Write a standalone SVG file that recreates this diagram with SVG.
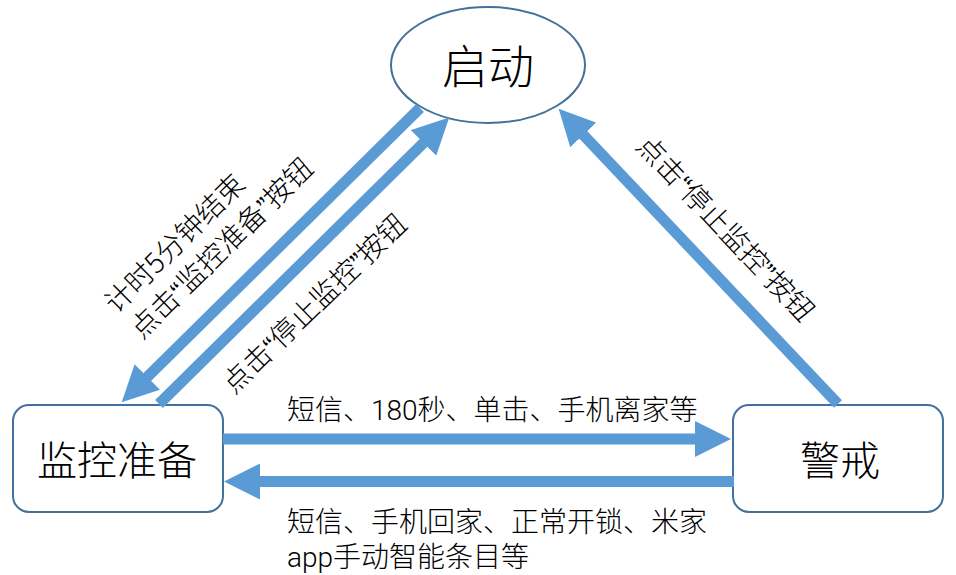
<svg xmlns="http://www.w3.org/2000/svg" width="956" height="575" viewBox="0 0 956 575">
<style>
.node{fill:#ffffff;stroke:#41719C;stroke-width:2}
.conn{stroke:#5B9BD5;stroke-width:11;fill:none;stroke-linecap:butt;marker-end:url(#ah)}
.t{font-family:"Noto Sans CJK SC","Liberation Sans",sans-serif;fill:#000000;font-weight:300}
.h{font-family:Roboto,"Noto Sans CJK SC",sans-serif}
.q{font-family:"Liberation Sans",sans-serif;font-weight:400}
.lbl{font-size:28px}
</style>
<defs>
<marker id="ah" markerUnits="userSpaceOnUse" viewBox="0 0 36 36" markerWidth="36" markerHeight="36" refX="1" refY="18" orient="auto">
<path d="M0,0 L36,18 L0,36 Z" fill="#5B9BD5"/>
</marker>
</defs>
<rect width="956" height="575" fill="#ffffff"/>
<g id="node-start">
<ellipse class="node" cx="488" cy="65" rx="97" ry="58"/>
<text class="t" x="488" y="83" font-size="46" text-anchor="middle">启动</text>
</g>
<g id="node-prepare">
<rect class="node" x="13" y="405" width="210" height="107" rx="16" ry="16"/>
<text class="t" x="117" y="475" font-size="40" text-anchor="middle">监控准备</text>
</g>
<g id="node-alert">
<rect class="node" x="733" y="405" width="210" height="107" rx="16" ry="16"/>
<text class="t" x="840" y="475" font-size="40" text-anchor="middle">警戒</text>
</g>
<g id="connectors">
<line class="conn" x1="420" y1="108" x2="146.6" y2="377.7"/>
<line class="conn" x1="159" y1="404" x2="424.3" y2="142.2"/>
<line class="conn" x1="838" y1="404" x2="582.7" y2="134.2"/>
<line class="conn" x1="223" y1="439" x2="696" y2="439"/>
<line class="conn" x1="734" y1="481.5" x2="259" y2="481.5"/>
</g>
<g id="labels">
<g transform="translate(119,297) rotate(-44.5)">
<text class="t lbl" x="-14" y="10.6">计时5分钟结束</text>
<text class="t lbl" x="-14" y="47">点击<tspan class="q">“</tspan>监控准备<tspan class="q">”</tspan>按钮</text>
</g>
<text class="t lbl" transform="translate(314,303) rotate(-44)" x="0" y="10.6" text-anchor="middle">点击<tspan class="q">“</tspan>停止监控<tspan class="q">”</tspan>按钮</text>
<text class="t lbl" transform="translate(726,228) rotate(46.5)" x="0" y="10.6" text-anchor="middle">点击<tspan class="q">“</tspan>停止监控<tspan class="q">”</tspan>按钮</text>
<text class="t h lbl" x="287" y="420">短信、180秒、单击、手机离家等</text>
<text class="t h lbl" x="287" y="532">短信、手机回家、正常开锁、米家</text>
<text class="t h lbl" x="287" y="567">app手动智能条目等</text>
</g>
</svg>
